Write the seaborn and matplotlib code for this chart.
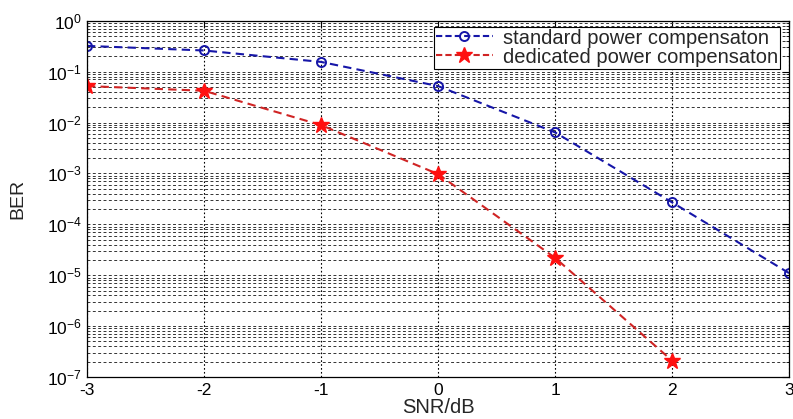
import numpy as np
import pandas as pd
import seaborn as sns
import matplotlib
matplotlib.use("Agg")
import matplotlib.pyplot as plt
from matplotlib.ticker import LogLocator, FixedLocator, NullFormatter, LogFormatterSciNotation
from matplotlib.lines import Line2D

snr = [-3, -2, -1, 0, 1, 2, 3]
ber_standard = [0.32, 0.26, 0.155, 0.052, 0.0064, 2.7e-4, 1.1e-5]
snr_dedicated = [-3, -2, -1, 0, 1, 2]
ber_dedicated = [0.052, 0.042, 0.0089, 9.7e-4, 2.2e-5, 2.1e-7]
ber_ticks = [1e-7, 1e-6, 1e-5, 1e-4, 1e-3, 1e-2, 1e-1, 1e0]
labels = ["standard power compensaton", "dedicated power compensaton"]

sns.set_style("white")
plt.rcParams['font.family'] = ['Liberation Sans', 'DejaVu Sans']
plt.rcParams['mathtext.fontset'] = 'custom'
plt.rcParams['mathtext.rm'] = 'Liberation Sans'
plt.rcParams['mathtext.it'] = 'Liberation Sans'
plt.rcParams['axes.unicode_minus'] = False

df = pd.concat([
    pd.DataFrame({"SNR": snr, "BER": ber_standard, "scheme": labels[0]}),
    pd.DataFrame({"SNR": snr_dedicated, "BER": ber_dedicated, "scheme": labels[1]}),
])

BLUE = "#1616a8"
RED = "#d02424"

fig = plt.figure(figsize=(7.93, 4.19), dpi=100)
ax = fig.add_axes([0.1097, 0.1002, 0.8853, 0.8504])

sns.lineplot(data=df, x="SNR", y="BER", hue="scheme",
             palette={labels[0]: BLUE, labels[1]: RED},
             ax=ax, legend=False, linewidth=1.5)
for l in ax.lines:
    l.set_linestyle((0, (4, 2.5)))

ax.set_yscale("log")
ax.set_xlim(-3, 3)
ax.set_ylim(1e-7, 1)

ax.plot(snr, ber_standard, linestyle="none", marker="o", markersize=6.5,
        markerfacecolor="none", markeredgecolor=BLUE, markeredgewidth=1.4)
ax.plot(snr_dedicated, ber_dedicated, linestyle="none", marker="*", markersize=12,
        color="#ff1010", markeredgecolor="#ff1010")

h1 = Line2D([], [], color=BLUE, linestyle=(0, (3, 1.5)), linewidth=1.5, marker="o",
            markersize=6.5, markerfacecolor="none", markeredgewidth=1.4)
h2 = Line2D([], [], color=RED, linestyle=(0, (3, 1.5)), linewidth=1.5, marker="*",
            markersize=12, markerfacecolor="#ff1010", markeredgecolor="#ff1010")
leg = ax.legend([h1, h2], labels, loc="upper right", fontsize=14.5, frameon=True,
                fancybox=False, framealpha=1, edgecolor="black", borderpad=0.1,
                handlelength=2.8, handletextpad=0.5, labelspacing=0.0,
                borderaxespad=0.2, bbox_to_anchor=(0.9925, 0.995))
leg.get_frame().set_linewidth(0.8)

ax.xaxis.set_major_locator(FixedLocator(snr))
ax.yaxis.set_major_locator(FixedLocator(ber_ticks))
ax.yaxis.set_major_formatter(LogFormatterSciNotation(base=10))
minor = [m * t for t in ber_ticks[:-1] for m in range(2, 10)]
ax.yaxis.set_minor_locator(FixedLocator(minor))
ax.yaxis.set_minor_formatter(NullFormatter())
ax.grid(True, which="major", axis="x", color="black", linestyle=(0, (1.5, 2)), linewidth=0.8)
ax.grid(True, which="both", axis="y", color="#333333", linestyle=(0, (3, 2.5)), linewidth=0.7)
ax.set_axisbelow(True)

for s in ax.spines.values():
    s.set_color("black")
    s.set_linewidth(0.9)

ax.tick_params(axis="both", which="both", direction="in", top=True, right=True,
               labelsize=12.5, colors="black")
ax.tick_params(axis="both", which="major", length=5)
ax.tick_params(axis="y", which="minor", length=2.5)
ax.tick_params(axis="x", which="major", pad=4)

ax.set_xlabel("SNR/dB", fontsize=14.5, labelpad=0)
ax.set_ylabel("BER", fontsize=14)
ax.yaxis.set_label_coords(-0.086, 0.5)

fig.savefig("out.png", dpi=100)
